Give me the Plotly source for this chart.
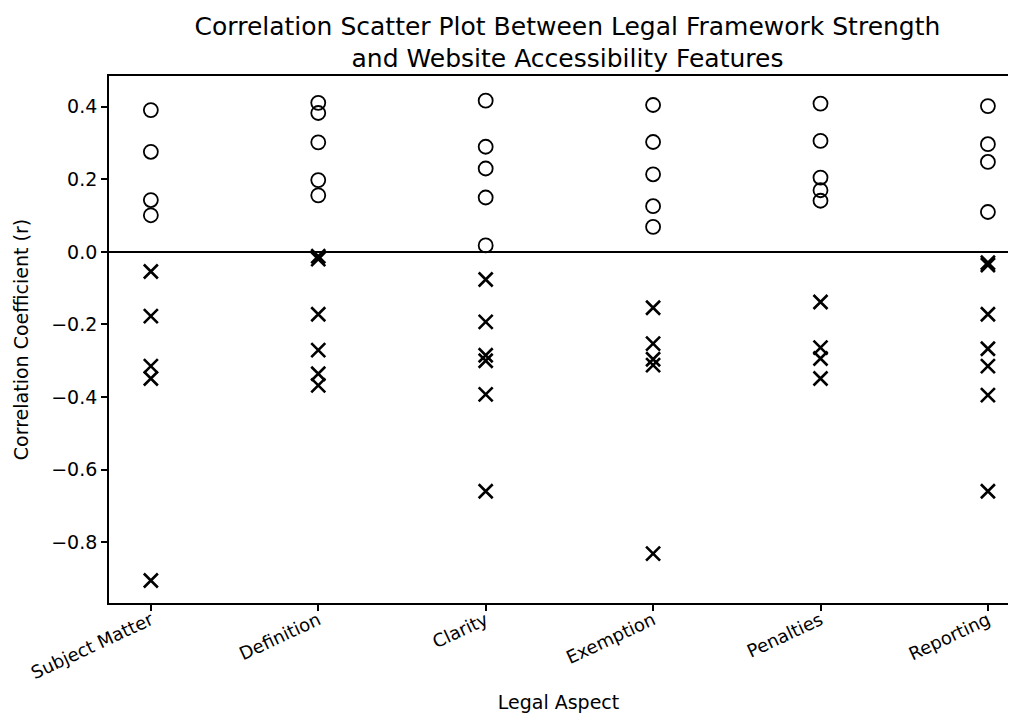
import plotly.graph_objects as go

categories = ["Subject Matter", "Definition", "Clarity", "Exemption", "Penalties", "Reporting"]

positive_r = {
    "Subject Matter": [0.391, 0.276, 0.143, 0.101],
    "Definition": [0.411, 0.383, 0.302, 0.198, 0.156],
    "Clarity": [0.417, 0.290, 0.230, 0.150, 0.018],
    "Exemption": [0.405, 0.303, 0.214, 0.126, 0.069],
    "Penalties": [0.409, 0.306, 0.205, 0.170, 0.141],
    "Reporting": [0.402, 0.297, 0.248, 0.110],
}

negative_r = {
    "Subject Matter": [-0.054, -0.177, -0.315, -0.349, -0.906],
    "Definition": [-0.012, -0.020, -0.172, -0.271, -0.336, -0.368],
    "Clarity": [-0.076, -0.193, -0.285, -0.300, -0.393, -0.660],
    "Exemption": [-0.154, -0.253, -0.296, -0.312, -0.832],
    "Penalties": [-0.138, -0.264, -0.294, -0.349],
    "Reporting": [-0.030, -0.036, -0.172, -0.267, -0.315, -0.395, -0.660],
}

y_ticks = [-0.8, -0.6, -0.4, -0.2, 0.0, 0.2, 0.4]

cat_index = {c: i for i, c in enumerate(categories)}

px_, py_ = [], []
for c in categories:
    for v in positive_r[c]:
        px_.append(cat_index[c]); py_.append(v)
nx_, ny_ = [], []
for c in categories:
    for v in negative_r[c]:
        nx_.append(cat_index[c]); ny_.append(v)

fig = go.Figure()
fig.add_trace(go.Scatter(
    x=px_, y=py_, mode="markers", showlegend=False,
    marker=dict(symbol="circle-open", size=14, color="black", line=dict(width=1.8, color="black")),
))
fig.add_trace(go.Scatter(
    x=nx_, y=ny_, mode="markers", showlegend=False,
    marker=dict(symbol="x-thin-open", size=14, color="black", line=dict(width=2.6, color="black")),
))

font_family = "DejaVu Sans, Arial, sans-serif"

fig.update_layout(
    width=1000, height=707,
    margin=dict(l=101, r=0, t=68, b=112),
    paper_bgcolor="white", plot_bgcolor="white",
    font=dict(family=font_family, color="black", size=18),
    title=dict(
        text="Correlation Scatter Plot Between Legal Framework Strength<br>and Website Accessibility Features",
        x=0.51, xanchor="center", xref="paper", y=0.962, yanchor="top",
        font=dict(size=25, family=font_family, color="black"),
    ),
    xaxis=dict(
        range=[-0.25, 5.12],
        tickmode="array", tickvals=list(range(len(categories))), ticktext=categories,
        tickangle=-25, ticks="outside", ticklen=6, tickwidth=1.5, tickcolor="black",
        ticklabelstandoff=-8,
        showline=True, linecolor="black", linewidth=1.8, mirror=True,
        showgrid=False, zeroline=False,
        tickfont=dict(size=18, family=font_family),
        title=dict(text="Legal Aspect", font=dict(size=19, family=font_family), standoff=14),
    ),
    yaxis=dict(
        range=[-0.968, 0.485],
        tickmode="array", tickvals=y_ticks, ticktext=[f"{t:.1f}".replace("-", "\u2212") for t in y_ticks],
        ticks="outside", ticklen=6, tickwidth=1.5, tickcolor="black",
        showline=True, linecolor="black", linewidth=1.8, mirror=False,
        showgrid=False, zeroline=True, zerolinecolor="black", zerolinewidth=1.8,
        tickfont=dict(size=19, family=font_family),
        title=dict(text="Correlation Coefficient (r)", font=dict(size=19, family=font_family), standoff=18),
    ),
)

fig.write_html("out.html")
